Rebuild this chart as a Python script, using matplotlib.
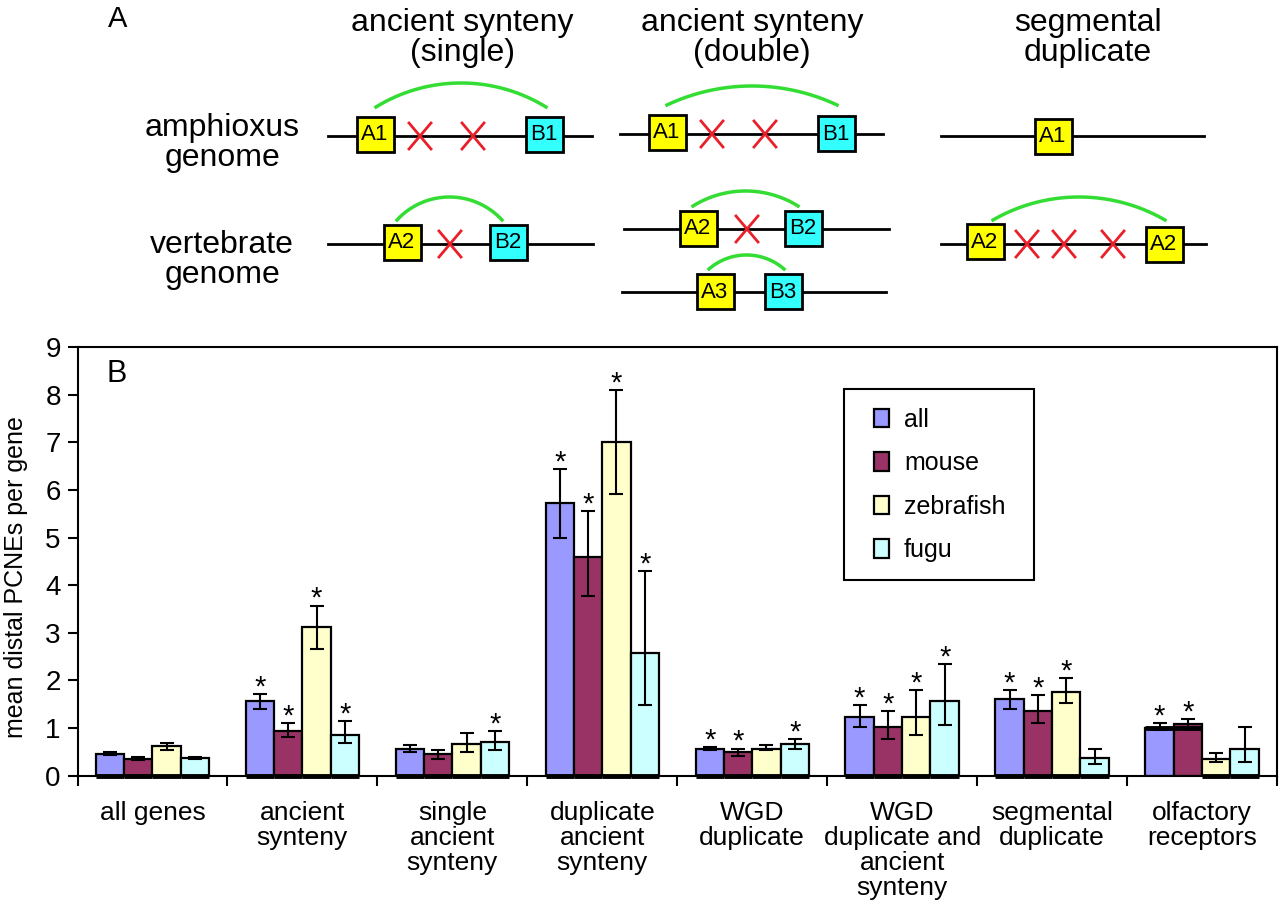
import numpy as np
import matplotlib
matplotlib.use("Agg")
import matplotlib.pyplot as plt
from matplotlib.patches import Rectangle

plt.rcParams['font.family'] = ['Liberation Sans', 'DejaVu Sans']

# ---- panel B data ----
groups = ["all genes", "ancient\nsynteny", "single\nancient\nsynteny",
          "duplicate\nancient\nsynteny", "WGD\nduplicate",
          "WGD\nduplicate and\nancient\nsynteny", "segmental\nduplicate",
          "olfactory\nreceptors"]
series = ["all", "mouse", "zebrafish", "fugu"]
colors = ["#9999FF", "#993366", "#FFFFCC", "#CCFFFF"]

all_mean = [0.46, 1.56, 0.57, 5.73, 0.57, 1.23, 1.60, 1.01]
all_hi = [0.49, 1.72, 0.65, 6.43, 0.60, 1.48, 1.80, 1.10]
all_lo = [0.43, 1.39, 0.49, 4.99, 0.54, 1.02, 1.39, 0.96]

mouse_mean = [0.36, 0.94, 0.45, 4.59, 0.49, 1.02, 1.36, 1.08]
mouse_hi = [0.39, 1.11, 0.53, 5.56, 0.57, 1.35, 1.69, 1.18]
mouse_lo = [0.33, 0.82, 0.36, 3.77, 0.41, 0.77, 1.10, 1.01]

zebra_mean = [0.62, 3.12, 0.66, 7.01, 0.57, 1.23, 1.76, 0.36]
zebra_hi = [0.69, 3.57, 0.90, 8.10, 0.64, 1.80, 2.05, 0.48]
zebra_lo = [0.55, 2.66, 0.49, 5.92, 0.53, 0.85, 1.52, 0.29]

fugu_mean = [0.37, 0.86, 0.70, 2.58, 0.66, 1.56, 0.37, 0.57]
fugu_hi = [0.40, 1.15, 0.94, 4.30, 0.77, 2.34, 0.57, 1.02]
fugu_lo = [0.35, 0.69, 0.53, 1.48, 0.56, 1.06, 0.24, 0.28]

# significance stars (1 = starred)
stars_all = [0, 1, 0, 1, 1, 1, 1, 1]
stars_mouse = [0, 1, 0, 1, 1, 1, 1, 1]
stars_zebra = [0, 1, 0, 1, 0, 1, 1, 0]
stars_fugu = [0, 1, 1, 1, 1, 1, 0, 0]

# level of the thick black floor segment under each bar
floor_all = [0, 0, 0, 0, 0, 0, 0, 1.0]
floor_mouse = [0, 0, 0, 0, 0, 0, 0, 1.0]
floor_zebra = [0, 0, 0, 0, 0, 0, 0, 0]
floor_fugu = [0, 0, 0, 0, 0, 0, 0, 0]

means = [all_mean, mouse_mean, zebra_mean, fugu_mean]
highs = [all_hi, mouse_hi, zebra_hi, fugu_hi]
lows = [all_lo, mouse_lo, zebra_lo, fugu_lo]
stars = [stars_all, stars_mouse, stars_zebra, stars_fugu]
floors = [floor_all, floor_mouse, floor_zebra, floor_fugu]

# ---- panel A schematic layout (pixel units) ----
chrom_lines = [(328, 592, 136), (328, 593, 244),
               (620, 883, 134), (624, 889, 229), (622, 886, 292),
               (941, 1204, 136), (941, 1206, 244)]
gene_boxes = [(375, 134, "A1", "#FFFF00"), (544, 134, "B1", "#33FFFF"),
              (402, 242, "A2", "#FFFF00"), (508, 242, "B2", "#33FFFF"),
              (667, 132, "A1", "#FFFF00"), (836, 133, "B1", "#33FFFF"),
              (698, 228, "A2", "#FFFF00"), (803, 228, "B2", "#33FFFF"),
              (715, 291, "A3", "#FFFF00"), (783, 291, "B3", "#33FFFF"),
              (1053, 136, "A1", "#FFFF00"),
              (985, 241, "A2", "#FFFF00"), (1164, 244, "A2", "#FFFF00")]
losses = [(420, 136), (473, 136), (450, 244),
          (712, 134), (765, 134), (747, 229),
          (1027, 244), (1064, 244), (1113, 244)]
links = [(376, 546, 107, 83), (397, 502, 220, 197),
         (667, 837, 105, 86), (693, 798, 206, 191), (709, 784, 269, 255),
         (993, 1165, 220, 197)]
col_titles = [(462, "ancient synteny\n(single)"), (752, "ancient synteny\n(double)"),
              (1088, "segmental\nduplicate")]
row_titles = [(143, "amphioxus\ngenome"), (260, "vertebrate\ngenome")]

W, H = 1280, 909
fig = plt.figure(figsize=(W / 100, H / 100), dpi=100)

# ---------- panel A ----------
axa = fig.add_axes([0, 1 - 330 / H, 1, 330 / H])
axa.set_xlim(0, W)
axa.set_ylim(330, 0)
axa.axis("off")

for x0, x1, y in chrom_lines:
    axa.plot([x0, x1], [y, y], color="black", lw=2, zorder=1)

for x0, x1, ye, yp in links:
    c = (x1 - x0) / 2
    s = ye - yp
    r = (c ** 2 + s ** 2) / (2 * s)
    xm = (x0 + x1) / 2
    xs = np.linspace(x0, x1, 80)
    ys = yp + r - np.sqrt(r ** 2 - (xs - xm) ** 2)
    axa.plot(xs, ys, color="#33DD33", lw=2.5, zorder=1)

for x, y in losses:
    axa.plot([x - 11, x + 11], [y - 13, y + 13], color="#E8202A", lw=2, zorder=3)
    axa.plot([x - 11, x + 11], [y + 13, y - 13], color="#E8202A", lw=2, zorder=3)

for x, y, lab, col in gene_boxes:
    axa.add_patch(Rectangle((x - 18.5, y - 17.5), 37, 35, facecolor=col,
                            edgecolor="black", lw=2, zorder=4))
    axa.text(x, y + 1, lab, ha="center", va="center", fontsize=16, zorder=5)

for x, t in col_titles:
    axa.text(x, 38, t, ha="center", va="center", fontsize=23, linespacing=1.02)
for y, t in row_titles:
    axa.text(222, y, t, ha="center", va="center", fontsize=23, linespacing=1.02)
axa.text(118, 19, "A", ha="center", va="center", fontsize=21)

# ---------- panel B ----------
ax = fig.add_axes([77.5 / W, (H - 775.7) / H, 1199.5 / W, 428.7 / H])
x = np.arange(len(groups))
width = 0.189
offsets = (np.arange(len(series)) - 1.5) * width

for i, name in enumerate(series):
    xs = x + offsets[i]
    m = np.array(means[i])
    hi = np.array(highs[i])
    lo = np.array(lows[i])
    ax.bar(xs, m, width, color=colors[i], edgecolor="black", lw=1.6,
           label=name, zorder=2)
    ax.errorbar(xs, m, yerr=[m - lo, hi - m], fmt="none", ecolor="black",
                elinewidth=1.5, capsize=5, capthick=1.5, zorder=3)
    ax.hlines(floors[i], xs - width / 2, xs + width / 2, color="black",
              lw=3.5, zorder=4, clip_on=False)
    for j, flag in enumerate(stars[i]):
        if flag:
            ax.annotate("*", (xs[j], hi[j]), xytext=(0, -1),
                        textcoords="offset points", ha="center",
                        va="baseline", fontsize=21, zorder=5)

ax.set_xlim(-0.5, len(groups) - 0.5)
ax.set_ylim(0, 9)
ax.set_yticks(range(10))
ax.set_xticks(x)
ax.set_xticklabels(groups, linespacing=1.05)
ax.set_xticks(np.arange(-0.5, len(groups)), minor=True)
ax.tick_params(axis="x", which="major", length=0, pad=18, labelsize=19)
ax.tick_params(axis="x", which="minor", length=7, width=1.5, direction="out")
ax.tick_params(axis="y", length=7, width=1.5, labelsize=20, pad=5)
for sp in ax.spines.values():
    sp.set_linewidth(1.5)

ax.set_ylabel("mean distal PCNEs per gene", fontsize=18)
ax.yaxis.set_label_coords(-0.041, 0.463)

ax.add_patch(Rectangle((0.639, 0.4565), 0.158, 0.4455, transform=ax.transAxes,
                       facecolor="white", edgecolor="black", lw=1.5, zorder=6))
leg = ax.legend(loc="center left", bbox_to_anchor=(0.664, 0.678), frameon=False,
                fontsize=18, borderpad=0, borderaxespad=0, handlelength=0.6,
                handleheight=0.75, handletextpad=0.6, labelspacing=0.78)
leg.set_zorder(7)

fig.text(117 / W, 1 - 374 / H, "B", ha="center", va="center", fontsize=22)

fig.savefig("out.png", dpi=100)
